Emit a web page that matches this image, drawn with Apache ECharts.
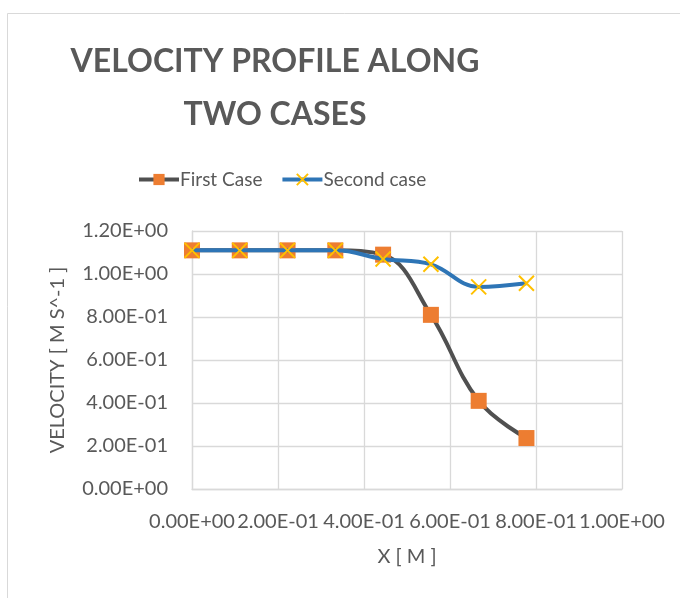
<!DOCTYPE html>
<html>
<head>
<meta charset="utf-8">
<script src="https://cdn.jsdelivr.net/npm/echarts@6/dist/echarts.min.js"></script>
<style>
  html, body { margin: 0; padding: 0; background: #fff; }
  #chart { width: 680px; height: 598px; }
</style>
</head>
<body>
<div id="chart"></div>
<script>
// Position along the channel [m]
const xValues = [0, 0.1111, 0.2222, 0.3333, 0.4444, 0.5556, 0.6667, 0.7778];
// Velocity [m s^-1] for each case
const firstCase = [1.11, 1.11, 1.11, 1.11, 1.09, 0.81, 0.41, 0.237];
const secondCase = [1.11, 1.11, 1.11, 1.11, 1.07, 1.045, 0.94, 0.957];
const seriesNames = ['First Case', 'Second case'];

// Excel-style scientific notation, e.g. 2.00E-01
function sci(v) {
  const parts = Number(v).toExponential(2).split('e');
  const n = parseInt(parts[1], 10);
  return parts[0] + 'E' + (n < 0 ? '-' : '+') + String(Math.abs(n)).padStart(2, '0');
}

const pairs = (ys) => xValues.map((x, i) => [x, ys[i]]);
const FONT = 'Lato, "Open Sans", sans-serif';
const TXT = '#595959';
const GRID = '#d9d9d9';

const chart = echarts.init(document.getElementById('chart'), null, { renderer: 'canvas' });
chart.setOption({
  backgroundColor: '#ffffff',
  animation: false,
  graphic: [{
    type: 'rect',
    shape: { x: 7.5, y: 13.5, width: 700, height: 620 },
    style: { fill: 'none', stroke: GRID, lineWidth: 1 },
    silent: true
  }],
  title: {
    text: 'VELOCITY PROFILE ALONG\nTWO CASES',
    left: 270,
    top: 30,
    textAlign: 'center',
    textStyle: {
      fontFamily: FONT,
      fontWeight: 'bold',
      fontSize: 32,
      lineHeight: 53,
      color: TXT
    }
  },
  legend: {
    left: 137,
    top: 170,
    padding: 0,
    itemWidth: 40,
    itemHeight: 14,
    itemGap: 18,
    lineStyle: { width: 4 },
    textStyle: { fontFamily: FONT, fontSize: 19, color: TXT, padding: [0, 0, 0, -4] },
    data: seriesNames
  },
  grid: { left: 192, right: 58, top: 231, bottom: 109, containLabel: false },
  xAxis: {
    type: 'value',
    min: 0,
    max: 1,
    interval: 0.2,
    name: 'X [ M ]',
    nameLocation: 'middle',
    nameGap: 58,
    nameTextStyle: { fontFamily: FONT, fontSize: 20, color: TXT },
    axisLine: { show: true, lineStyle: { color: GRID, width: 1.3 } },
    axisTick: { show: false },
    axisLabel: { fontFamily: FONT, fontSize: 20, color: TXT, margin: 23, formatter: sci, hideOverlap: false },
    splitLine: { show: true, lineStyle: { color: GRID, width: 1.3 } }
  },
  yAxis: {
    type: 'value',
    min: 0,
    max: 1.2,
    interval: 0.2,
    name: 'VELOCITY [ M S^-1 ]',
    nameLocation: 'middle',
    nameGap: 124,
    nameTextStyle: { fontFamily: FONT, fontSize: 20, color: TXT },
    axisLine: { show: true, lineStyle: { color: GRID, width: 1.3 } },
    axisTick: { show: false },
    axisLabel: { fontFamily: FONT, fontSize: 20, color: TXT, margin: 24, formatter: sci },
    splitLine: { show: true, lineStyle: { color: GRID, width: 1.3 } }
  },
  series: [
    {
      name: seriesNames[0],
      type: 'line',
      smooth: 0.4,
      data: pairs(firstCase),
      symbol: 'rect',
      symbolSize: 16,
      itemStyle: { color: '#ed7d31', borderColor: '#ed7d31', borderWidth: 0 },
      lineStyle: { color: '#505050', width: 4 },
      z: 2
    },
    {
      name: seriesNames[1],
      type: 'line',
      smooth: 0.4,
      data: pairs(secondCase),
      symbol: 'path://M0,0L10,10M10,0L0,10',
      symbolSize: 15,
      itemStyle: { color: '#ffc000', borderColor: '#ffc000', borderWidth: 2 },
      lineStyle: { color: '#2e75b6', width: 4 },
      z: 3
    }
  ]
});
</script>
</body>
</html>
